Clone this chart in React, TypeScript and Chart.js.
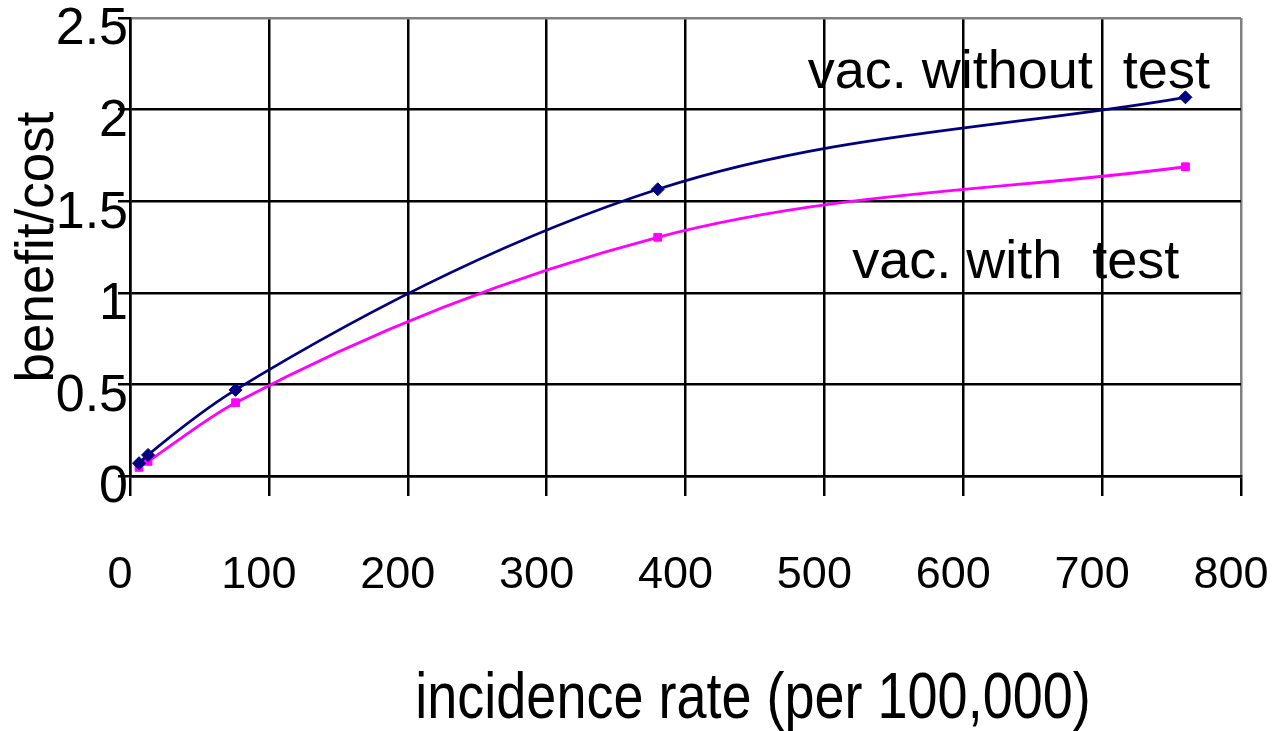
import React, { useEffect, useRef } from 'react';
import { Chart, registerables } from 'chart.js';

Chart.register(...registerables);

// ---- data ----
const incidence = [6.5, 13, 76, 380, 760];
const vacWithoutTest = [0.07, 0.115, 0.47, 1.565, 2.067];
const vacWithTest = [0.047, 0.08, 0.4, 1.303, 1.688];
const xTickValues = [0, 100, 200, 300, 400, 500, 600, 700, 800];
const yTickLabels = ['0', '0.5', '1', '1.5', '2', '2.5'];
const seriesNames = ['vac. without  test', 'vac. with  test'];
const xTitle = 'incidence rate (per 100,000)';
const yTitle = 'benefit/cost';

const FONT = "'Liberation Sans', Arial, Helvetica, sans-serif";

// annotation anchors in data coordinates (left edge, baseline)
const annotationAnchors = [
  { x: 488, y: 2.118 },
  { x: 520, y: 1.081 },
];

const textPlugin = {
  id: 'textPlugin',
  afterDatasetsDraw(chart: any) {
    const ctx = chart.ctx;
    const xs = chart.scales.x;
    const ys = chart.scales.y;
    ctx.save();
    ctx.fillStyle = '#000';
    ctx.font = `54px ${FONT}`;
    ctx.textAlign = 'left';
    ctx.textBaseline = 'alphabetic';
    seriesNames.forEach((name, i) => {
      const a = annotationAnchors[i];
      ctx.fillText(name, xs.getPixelForValue(a.x), ys.getPixelForValue(a.y));
    });
    ctx.restore();
  },
  afterDraw(chart: any) {
    const ctx = chart.ctx;
    ctx.save();
    ctx.fillStyle = '#000';
    ctx.font = `54px ${FONT}`;
    ctx.textAlign = 'center';
    ctx.textBaseline = 'alphabetic';
    ctx.translate(753, 718);
    ctx.scale(1, 1.2);
    ctx.fillText(xTitle, 0, 0);
    ctx.restore();
  },
};

export default function App() {
  const ref = useRef<HTMLCanvasElement | null>(null);

  useEffect(() => {
    if (!ref.current) return;
    const chart = new Chart(ref.current, {
      type: 'line',
      data: {
        datasets: [
          {
            label: seriesNames[0],
            data: incidence.map((x, i) => ({ x, y: vacWithoutTest[i] })),
            borderColor: '#000080',
            backgroundColor: '#000080',
            borderWidth: 2.8,
            pointStyle: 'rectRot',
            pointRadius: 6.5,
            pointBorderWidth: 1,
            cubicInterpolationMode: 'monotone',
            fill: false,
          },
          {
            label: seriesNames[1],
            data: incidence.map((x, i) => ({ x, y: vacWithTest[i] })),
            borderColor: '#FF00FF',
            backgroundColor: '#FF00FF',
            borderWidth: 2.8,
            pointStyle: 'rect',
            pointRadius: 5.5,
            pointBorderWidth: 1,
            cubicInterpolationMode: 'monotone',
            fill: false,
          },
        ],
      },
      options: {
        animation: false,
        responsive: true,
        maintainAspectRatio: false,
        layout: { padding: { top: 18, right: 36, left: 0, bottom: 0 } },
        plugins: {
          legend: { display: false },
          tooltip: { enabled: false },
        },
        scales: {
          x: {
            type: 'linear',
            min: 0,
            max: 800,
            afterBuildTicks: (scale: any) => {
              scale.ticks = xTickValues.map((v) => ({ value: v }));
            },
            afterFit: (scale: any) => {
              scale.height = 255;
              scale.paddingLeft = 0;
              scale.paddingRight = 0;
            },
            ticks: {
              color: '#000',
              font: { family: FONT, size: 45 },
              padding: 53,
              labelOffset: -10,
              maxRotation: 0,
              autoSkip: false,
              callback: (v: any) => String(v),
            },
            grid: {
              color: (c: any) => (c.tick && c.tick.value === 800 ? '#808080' : '#000'),
              tickColor: '#000',
              lineWidth: 2.5,
              tickLength: 20,
              drawTicks: true,
            },
            border: { display: true, color: '#000', width: 2.5 },
          },
          y: {
            type: 'linear',
            min: 0,
            max: 2.5,
            afterBuildTicks: (scale: any) => {
              scale.ticks = yTickLabels.map((_, i) => ({ value: i * 0.5 }));
            },
            afterFit: (scale: any) => {
              scale.width = 130;
              scale.paddingTop = 0;
              scale.paddingBottom = 0;
            },
            ticks: {
              color: '#000',
              font: { family: FONT, size: 52 },
              padding: -10,
              labelOffset: 12,
              autoSkip: false,
              callback: (_v: any, i: number) => yTickLabels[i],
            },
            grid: {
              color: (c: any) => (c.tick && c.tick.value === 2.5 ? '#808080' : '#000'),
              tickColor: '#000',
              lineWidth: 2.5,
              tickLength: 12,
            },
            border: { display: true, color: '#000', width: 2.5 },
            title: {
              display: true,
              text: yTitle,
              color: '#000',
              font: { family: FONT, size: 53, lineHeight: 1 },
              padding: { top: 12, bottom: 0 },
            },
          },
        },
      },
      plugins: [textPlugin],
    });
    return () => chart.destroy();
  }, []);

  return (
    <div style={{ position: 'absolute', left: 0, top: 0, width: 1277, height: 731, background: '#fff' }}>
      <canvas ref={ref} />
    </div>
  );
}
